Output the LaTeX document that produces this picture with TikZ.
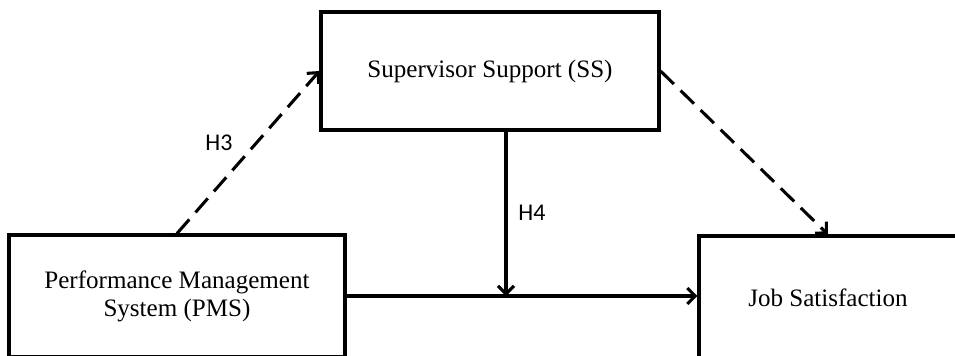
\documentclass[tikz,border=0pt]{standalone}
\usepackage{fontspec}
\setmainfont{Liberation Serif}
\newfontfamily\labelfont{Carlito}
\usetikzlibrary{positioning,arrows.meta}
\tikzset{factor/.style={
  draw, line width=2.3pt,
  inner sep=0pt,
  align=center,
  font=\fontsize{18.8}{21}\selectfont
}}
\tikzset{link/.style={line width=2.3pt,-{Straight Barb[length=6pt,width=12pt]}}}
\tikzset{hyp/.style={font=\labelfont\fontsize{18}{20}\selectfont}}

\begin{document}
\begin{tikzpicture}[x=0.75pt,y=-0.75pt]
    \useasboundingbox (0,0) rectangle (955,355);
    \clip (0,0) rectangle (955,355);
    % boxes
    \node (ss) [factor,minimum width=253.5pt,minimum height=88.5pt] at (490,71) {Supervisor Support (SS)};
    \node (pms) [factor,minimum width=252pt,minimum height=91.5pt] at (177,296) {Performance Management\\System (PMS)};
    \node (js) [factor,minimum width=193.5pt,minimum height=93pt] at (828,298) {Job Satisfaction};
    % paths
    \coordinate (meet) at (506,296);
    \draw [link,dash pattern=on 14pt off 7pt] (pms.north) -- (ss.west);
    \draw [link,dash pattern=on 14pt off 7pt] (ss.east) -- (js.north);
    \draw [link] (pms.east) -- (pms.east -| js.west);
    \draw [link] (ss.south -| meet) -- (meet);
    \node (h3) [hyp] at (219,143) {H3};
    \node (h4) [hyp] at (532,213) {H4};
  \end{tikzpicture}
\end{document}
